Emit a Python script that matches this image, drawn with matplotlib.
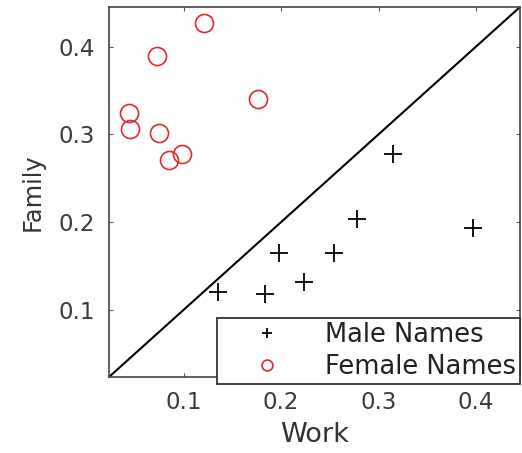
import numpy as np
import matplotlib.pyplot as plt

plt.rcParams['font.family'] = ['DejaVu Sans']

# work vs family association scores per name
male_work = [0.135, 0.183, 0.198, 0.223, 0.254, 0.278, 0.315, 0.397]
male_family = [0.120, 0.118, 0.165, 0.132, 0.165, 0.204, 0.278, 0.193]
female_work = [0.121, 0.073, 0.176, 0.044, 0.045, 0.075, 0.085, 0.098]
female_family = [0.427, 0.389, 0.340, 0.324, 0.306, 0.301, 0.271, 0.278]

lims = [0.0235, 0.445]
ticks = [0.1, 0.2, 0.3, 0.4]

fig = plt.figure(figsize=(5.22, 4.53), dpi=100)
ax = fig.add_axes([109 / 522, 76 / 453, 411 / 522, 370 / 453])

ax.plot(male_work, male_family, linestyle='none', marker='+', color='black',
        markersize=13, markeredgewidth=1.3, label='Male Names')
ax.plot(female_work, female_family, linestyle='none', marker='o', color='#df2a2f',
        markerfacecolor='none', markersize=13, markeredgewidth=1.2, label='Female Names')
ax.plot(lims, lims, color='black', linewidth=1.5)

ax.set_xlim(lims)
ax.set_ylim(lims)
ax.set_xticks(ticks)
ax.set_yticks(ticks)
ax.set_xticklabels([f'{t:.1f}' for t in ticks])
ax.set_yticklabels([f'{t:.1f}' for t in ticks])
ax.tick_params(direction='in', length=3, width=0.8, top=True, right=True,
               labelsize=16.5, colors='#555555', labelcolor='#3a3a3a', pad=10)
for sp in ax.spines.values():
    sp.set_color('#444444')
    sp.set_linewidth(1.2)

ax.set_xlabel('Work', fontsize=19.5, color='#333333', labelpad=6)
ax.set_ylabel('Family', fontsize=17.5, color='#333333', labelpad=10)

leg = ax.legend(loc='lower right', bbox_to_anchor=(520 / 522, 69 / 453),
                bbox_transform=fig.transFigure, borderaxespad=0, fontsize=18.5,
                fancybox=False, framealpha=1, edgecolor='#333333',
                handlelength=3.6, handletextpad=0.45, labelspacing=0.25,
                borderpad=0.15, markerscale=0.6)
leg.get_frame().set_linewidth(1.3)
for t in leg.get_texts():
    t.set_color('#222222')

fig.savefig('out.png', dpi=100)
